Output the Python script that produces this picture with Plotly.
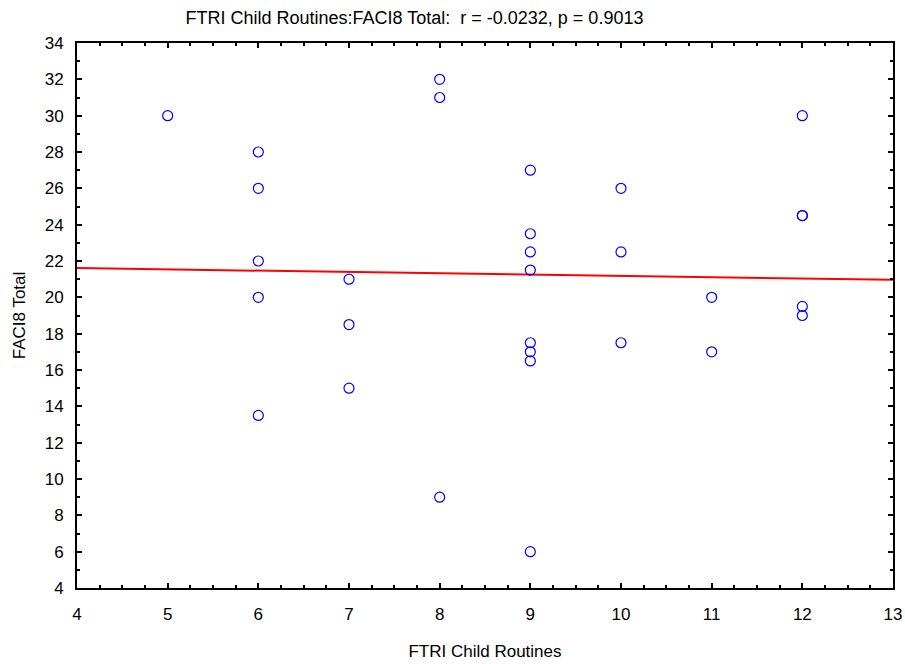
import numpy as np
import plotly.graph_objects as go

# (12, 24.5) appears twice (overlapping markers), giving n = 30
x_vals = [5, 6, 6, 6, 6, 6, 7, 7, 7, 8, 8, 8, 9, 9, 9, 9, 9, 9, 9, 9, 10, 10, 10, 11, 11, 12, 12, 12, 12, 12]
y_vals = [30, 28, 26, 22, 20, 13.5, 21, 18.5, 15, 32, 31, 9, 27, 23.5, 22.5, 21.5, 17.5, 17, 16.5, 6, 26, 22.5, 17.5, 20, 17, 30, 24.5, 24.5, 19.5, 19]

title_text = "FTRI Child Routines:FACI8 Total:  r = -0.0232, p = 0.9013"
x_title = "FTRI Child Routines"
y_title = "FACI8 Total"

slope, intercept = np.polyfit(x_vals, y_vals, 1)
line_x = [4, 13]
line_y = [intercept + slope * v for v in line_x]

fig = go.Figure()
fig.add_trace(go.Scatter(x=line_x, y=line_y, mode="lines",
                         line=dict(color="#ff0000", width=2), hoverinfo="skip"))
fig.add_trace(go.Scatter(x=x_vals, y=y_vals, mode="markers",
                         marker=dict(symbol="circle-open", size=10, color="#0000ff",
                                     line=dict(width=1.2, color="#0000ff"))))

fam = "Liberation Sans, Arial, sans-serif"
font = dict(family=fam, size=17, color="black")
axis_common = dict(showline=True, linecolor="black", linewidth=2, mirror="ticks",
                   ticks="inside", ticklen=5, tickwidth=2, tickcolor="black",
                   showgrid=False, zeroline=False, tickfont=font, automargin=False)

fig.update_layout(
    width=905, height=664,
    margin=dict(l=77, r=12, t=43, b=76),
    paper_bgcolor="white", plot_bgcolor="white",
    showlegend=False,
    font=font,
    title=dict(text=title_text, x=0.458, xanchor="center", xref="container",
               y=0.974, yanchor="middle", yref="container", automargin=False,
               font=dict(family=fam, size=18, color="black")),
    xaxis=dict(range=[4, 13], dtick=1, tick0=4, ticklabelstandoff=10,
               minor=dict(dtick=0.25, ticks="inside", ticklen=3, tickwidth=2, tickcolor="black"),
               title=dict(text=x_title, standoff=22, font=font), **axis_common),
    yaxis=dict(range=[4, 34], dtick=2, tick0=4, ticklabelstandoff=8,
               minor=dict(dtick=1, ticks="inside", ticklen=3, tickwidth=2, tickcolor="black"),
               title=dict(text=y_title, standoff=15, font=font), **axis_common),
)

fig.write_html("out.html")
